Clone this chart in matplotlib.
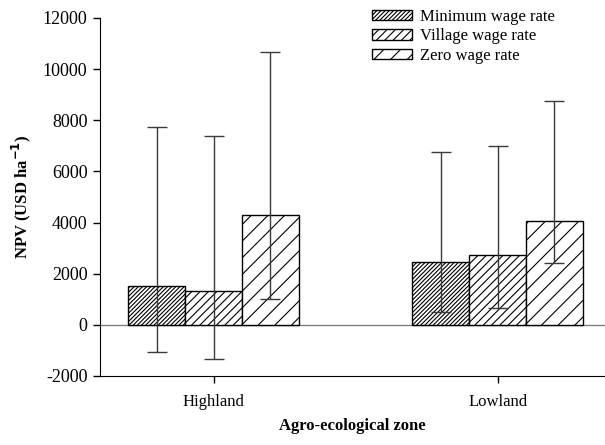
import numpy as np
import matplotlib
matplotlib.use("Agg")
import matplotlib.pyplot as plt

# -- data --
zones = ["Highland", "Lowland"]
series = ["Minimum wage rate", "Village wage rate", "Zero wage rate"]
hatches = ["////////", "////", "//"]

# mean NPV per series, one value per zone
npv_min = [1530, 2470]
npv_village = [1340, 2740]
npv_zero = [4300, 4060]

# error bar ends (upper / lower)
upper_min = [7730, 6760]
upper_village = [7400, 6990]
upper_zero = [10680, 8750]
lower_min = [-1070, 520]
lower_village = [-1320, 660]
lower_zero = [1030, 2420]

means = [npv_min, npv_village, npv_zero]
uppers = [upper_min, upper_village, upper_zero]
lowers = [lower_min, lower_village, lower_zero]

plt.rcParams["font.family"] = ["Liberation Serif", "DejaVu Serif"]
plt.rcParams["hatch.linewidth"] = 0.8
plt.rcParams["axes.unicode_minus"] = False

fig = plt.figure(figsize=(6.05, 4.45), dpi=100)
ax = fig.add_axes([100 / 605, 1 - 376 / 445, 505 / 605, 358 / 445])

x = np.arange(len(zones))
width = 0.2
for i in range(3):
    pos = x + (i - 1) * width
    m = np.array(means[i])
    yerr = [m - np.array(lowers[i]), np.array(uppers[i]) - m]
    ax.bar(pos, m, width, color="white", edgecolor="black", linewidth=1.0,
           hatch=hatches[i], label=series[i], zorder=2)
    ax.errorbar(pos, m, yerr=yerr, fmt="none", ecolor="#3a3a3a",
                elinewidth=1.0, capsize=7, capthick=1.0, zorder=3)

ax.axhline(0, color="#808080", linewidth=1.0, zorder=1)

ax.set_xlim(-0.4, 1.378)
ax.set_ylim(-2000, 12000)
ax.set_yticks(np.arange(-2000, 12001, 2000))
ax.set_xticks(x)
ax.set_xticklabels(zones)
ax.tick_params(axis="both", direction="out", length=5, width=1, pad=4)
ax.tick_params(axis="y", labelsize=13)
ax.tick_params(axis="x", labelsize=12, pad=8)

for s in ["top", "right"]:
    ax.spines[s].set_visible(False)

ax.set_ylabel("NPV (USD ha$^{\\mathbf{-1}}$)", fontsize=12, fontweight="bold", labelpad=7)
ax.set_xlabel("Agro-ecological zone", fontsize=12, fontweight="bold", labelpad=6)

ax.legend(loc="upper left", bbox_to_anchor=(372 / 605, 1 - 9 / 445),
          bbox_transform=fig.transFigure, frameon=False, fontsize=12,
          handlelength=2.4, handleheight=0.6, handletextpad=0.5,
          labelspacing=0.2, borderpad=0, borderaxespad=0)

fig.savefig("out.png", dpi=100)
